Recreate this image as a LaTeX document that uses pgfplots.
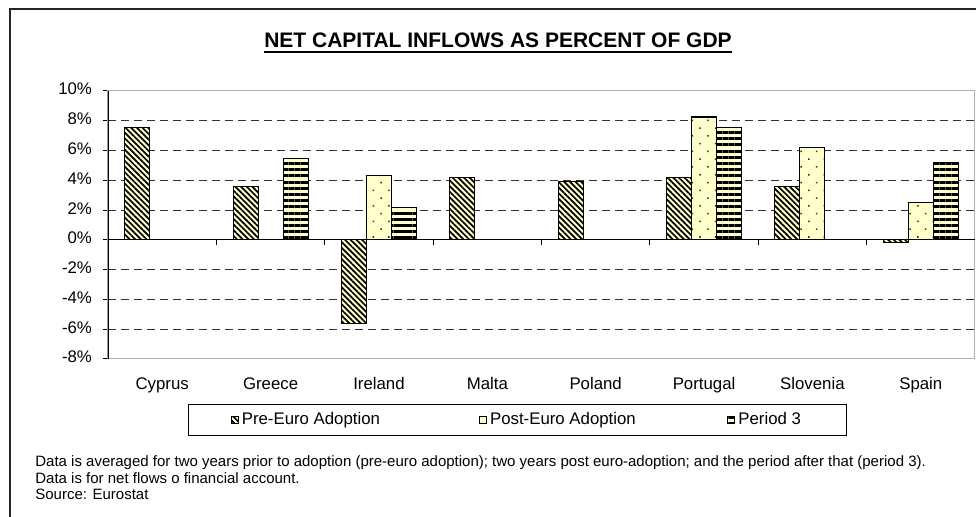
\documentclass[border=0pt]{standalone}
\usepackage{fontspec}
\setmainfont{Liberation Sans}
\usepackage{pgfplots}
\usepackage{pgfplotstable}
\pgfplotsset{compat=1.18}
\usetikzlibrary{patterns.meta}
\definecolor{barfill}{HTML}{FFFFCC}

\pgfplotstableread{
x pre post p3
0 7.55 nan nan
1 3.6 nan 5.45
2 -5.6 4.3 2.2
3 4.2 nan nan
4 3.9 nan nan
5 4.2 8.25 7.55
6 3.6 6.2 nan
7 -0.2 2.5 5.2
}\datatable

\tikzset{
  preStyle/.style={draw=black, line width=0.55pt, preaction={fill=barfill},
    pattern={Lines[angle=-45,distance=2pt,line width=0.85pt]}, pattern color=black},
  postStyle/.style={draw=black, line width=0.55pt, preaction={fill=barfill},
    pattern={Dots[angle=45,distance=5.5pt,radius=0.55pt]}, pattern color=black!80},
  pthreeStyle/.style={draw=black, line width=0.55pt, preaction={fill=barfill},
    pattern={Lines[angle=0,distance=3.1pt,line width=1.5pt]}, pattern color=black},
}

\begin{document}
\begin{tikzpicture}[x=1pt,y=1pt]
\useasboundingbox (0,0) rectangle (488,258.5);
\draw[line width=0.75pt, black!85] (5,-5) -- (5,254) -- (495,254);

\node[font=\fontsize{10.5}{12}\selectfont\bfseries, inner sep=0pt, anchor=base] (title) at (249,234.9) {NET CAPITAL INFLOWS AS PERCENT OF GDP};
\draw[line width=1pt] ([yshift=-2.3pt]title.base west) -- ([yshift=-2.3pt]title.base east);

\begin{axis}[
  at={(54pt,79pt)}, anchor=south west, scale only axis,
  width=433.5pt, height=134pt,
  xmin=-0.5, xmax=7.5, ymin=-8, ymax=10,
  ybar=0pt, bar width=12.5pt,
  xtick={0,...,7},
  xticklabels={Cyprus,Greece,Ireland,Malta,Poland,Portugal,Slovenia,Spain},
  typeset ticklabels with strut,
  x tick style={draw=none},
  xticklabel style={yshift=-2pt},
  ytick={-8,-6,...,10},
  yticklabels={-8\%,-6\%,-4\%,-2\%,0\%,2\%,4\%,6\%,8\%,10\%},
  ytick pos=left,
  y tick style={black, line width=0.5pt},
  tick align=outside, major tick length=2.5pt,
  tick label style={font=\fontsize{8.4}{10}\selectfont},
  yticklabel style={xshift=-2pt},
  axis line style={gray!60, line width=0.5pt},
  extra y ticks={-6,-4,-2,2,4,6,8},
  extra y tick labels={},
  extra y tick style={ymajorgrids=true, major tick length=0pt,
     major grid style={dash pattern=on 4pt off 2.5pt, black!80, line width=0.5pt}},
  legend columns=3,
  legend style={at={(0.0923,-0.168)}, anchor=north west, draw=black, line width=0.5pt,
     inner xsep=21pt, inner ysep=2.4pt, column sep=0pt,
     nodes={inner xsep=1.5pt, inner ysep=1.5pt},
     font=\fontsize{8.4}{10}\selectfont},
  legend image code/.code={\draw[#1] (0pt,-1.8pt) rectangle (3.6pt,1.8pt);},
]
\addplot[preStyle] table[x=x,y=pre] {\datatable};
\addlegendentry{\makebox[117pt][l]{Pre-Euro Adoption}}
\addplot[postStyle] table[x=x,y=post] {\datatable};
\addlegendentry{\makebox[117pt][l]{Post-Euro Adoption}}
\addplot[pthreeStyle] table[x=x,y=p3] {\datatable};
\addlegendentry{Period 3}
\draw[black, line width=0.6pt] (rel axis cs:0,0) -- (rel axis cs:0,1);
\draw[black, line width=0.6pt] (axis cs:-0.5,0) -- (axis cs:7.5,0);
\pgfplotsinvokeforeach{0.5,1.5,2.5,3.5,4.5,5.5,6.5}{\draw[black, line width=0.5pt] (axis cs:#1,0) -- ([yshift=-2.5pt]axis cs:#1,0);}
\end{axis}

\begin{scope}[every node/.style={font=\fontsize{7.5}{9}\selectfont, inner sep=0pt, anchor=base west}]
\node at (17.5,25) {Data is averaged for two years prior to adoption (pre-euro adoption); two years post euro-adoption; and the period after that (period 3).};
\node at (17.5,16.5) {Data is for net flows o financial account.};
\node at (17.5,8.5) {Source: Eurostat};
\end{scope}
\end{tikzpicture}
\end{document}
